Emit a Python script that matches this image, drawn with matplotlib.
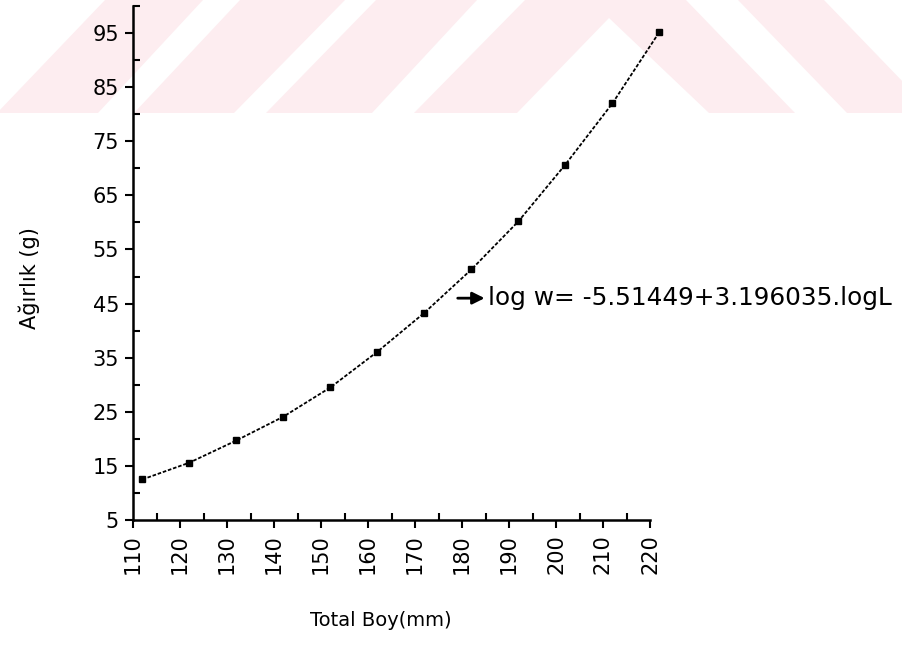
import matplotlib
matplotlib.use('Agg')
import matplotlib.pyplot as plt
from matplotlib.patches import Polygon
from matplotlib.ticker import MultipleLocator, FixedLocator

# total length (mm) and weight (g)
boy = [112, 122, 132, 142, 152, 162, 172, 182, 192, 202, 212, 222]
agirlik = [12.5, 15.6, 19.7, 24.1, 29.5, 36.1, 43.3, 51.3, 60.2, 70.7, 82.0, 95.2]

x_ticks = [110, 120, 130, 140, 150, 160, 170, 180, 190, 200, 210, 220]
y_ticks = [5, 15, 25, 35, 45, 55, 65, 75, 85, 95]

denklem = 'log w= -5.51449+3.196035.logL'

W, H = 902, 648
fig = plt.figure(figsize=(W / 100, H / 100), dpi=100)
fig.patch.set_facecolor('white')

# faint watermark stripes across the top (pixel coords)
stripes = [
    [(-3, 113), (105, 0), (203, 0), (98, 113)],
    [(134, 113), (240, 0), (345, 0), (234, 113)],
    [(266, 113), (376, 0), (477, 0), (372, 113)],
    [(414, 113), (525, 0), (686, 0), (795, 113), (709, 113), (609, 18), (517, 113)],
    [(738, 0), (824, 0), (933, 113), (847, 113)],
]
for s in stripes:
    pts = [(x / W, 1 - y / H) for x, y in s]
    fig.patches.append(Polygon(pts, closed=True, transform=fig.transFigure,
                               facecolor='#fdedf0', edgecolor='none', zorder=-10))

ax = fig.add_axes([133 / W, 1 - 520 / H, 517 / W, 514 / H])
ax.set_facecolor('none')

ax.plot(boy, agirlik, color='black', linewidth=1.3, linestyle=(0, (2, 1)),
        marker='s', markersize=4.5, clip_on=False)

ax.set_xlim(110, 220)
ax.set_ylim(5, 100)
ax.set_xticks(x_ticks)
ax.set_yticks(y_ticks)
ax.set_xticklabels([str(v) for v in x_ticks], rotation=90)
ax.xaxis.set_minor_locator(MultipleLocator(5))
ax.yaxis.set_minor_locator(FixedLocator(range(10, 101, 10)))

for side in ['top', 'right']:
    ax.spines[side].set_visible(False)
for side in ['left', 'bottom']:
    ax.spines[side].set_linewidth(1.8)

ax.tick_params(which='major', direction='out', length=6, width=1.5,
               labelsize=15, pad=4)
ax.tick_params(which='minor', direction='in', length=5, width=1.5)

ax.set_xlabel('Total Boy(mm)', fontsize=14)
ax.xaxis.set_label_coords(0.48, -0.178)
ax.set_ylabel('Ağırlık (g)', fontsize=15)
ax.yaxis.set_label_coords(-0.18, 0.47)

ax.annotate('', xy=(185.4, 46), xytext=(178.5, 46),
            arrowprops=dict(arrowstyle='-|>', color='black', lw=2,
                            mutation_scale=18), annotation_clip=False)
ax.text(185.5, 46, denklem, fontsize=17.8, va='center', ha='left', clip_on=False)

fig.savefig('out.png', dpi=100)
